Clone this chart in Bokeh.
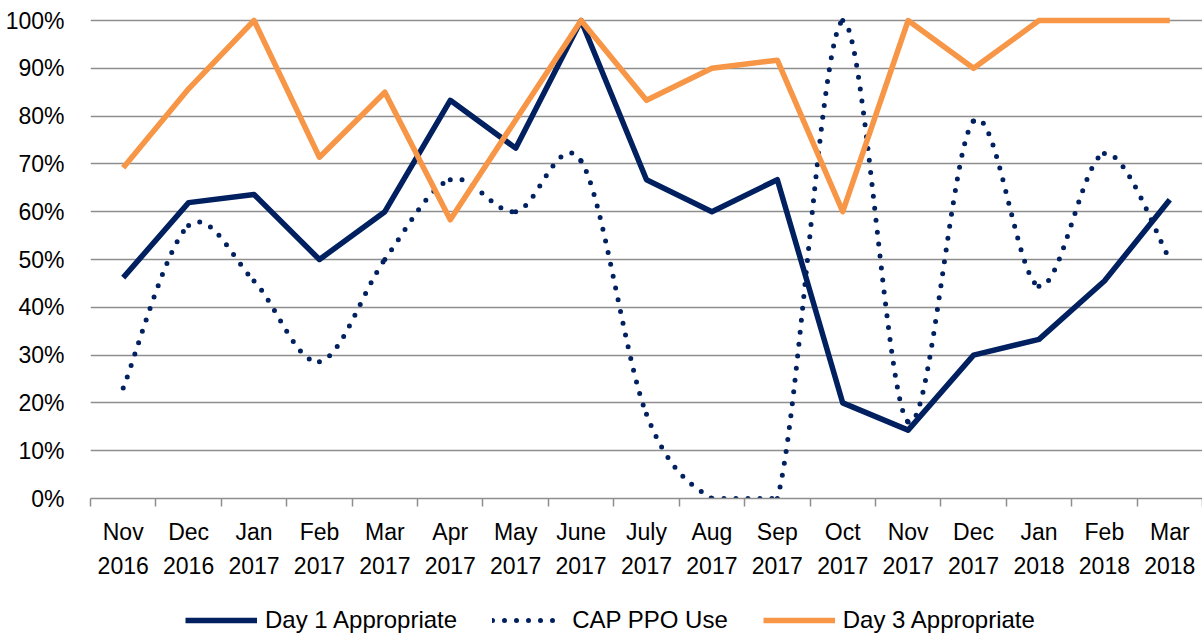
from bokeh.plotting import figure
from bokeh.layouts import column
from bokeh.models import Range1d, FixedTicker, PrintfTickFormatter, Legend, LegendItem, ColumnDataSource
from bokeh.embed import file_html
from bokeh.resources import INLINE

# ---- data ----
labels = ["Nov\n2016", "Dec\n2016", "Jan\n2017", "Feb\n2017", "Mar\n2017", "Apr\n2017",
          "May\n2017", "June\n2017", "July\n2017", "Aug\n2017", "Sep\n2017", "Oct\n2017",
          "Nov\n2017", "Dec\n2017", "Jan\n2018", "Feb\n2018", "Mar\n2018"]
day1_appropriate = [46.2, 61.9, 63.6, 50.0, 60.0, 83.3, 73.3, 100.0, 66.7, 60.0, 66.7,
                    20.0, 14.3, 30.0, 33.3, 45.5, 62.5]
cap_ppo_use = [23.1, 57.1, 45.5, 28.6, 50.0, 66.7, 60.0, 70.6, 17.6, 0.0, 0.0,
               100.0, 16.0, 79.0, 44.4, 72.2, 50.0]
day3_appropriate = [69.2, 85.7, 100.0, 71.4, 85.0, 58.3, 79.2, 100.0, 83.3, 90.0, 91.7,
                    60.0, 100.0, 90.0, 100.0, 100.0, 100.0]
series_names = ["Day 1 Appropriate", "CAP PPO Use", "Day 3 Appropriate"]
y_ticks = [0, 10, 20, 30, 40, 50, 60, 70, 80, 90, 100]

NAVY = "#002060"
ORANGE = "#F79646"
GRID = "#8E8E8E"
FONT = "Liberation Sans"

n = len(labels)
xs = list(range(n))

p = figure(frame_width=1112, frame_height=482, output_backend="svg", toolbar_location=None,
           x_range=Range1d(-0.5, n - 0.5), y_range=Range1d(0, 100.84),
           min_border_left=90, min_border_right=0, min_border_top=16, min_border_bottom=104)
p.outline_line_color = None
p.background_fill_color = "white"
p.border_fill_color = "white"

# y axis
p.yaxis.ticker = FixedTicker(ticks=y_ticks)
p.yaxis.formatter = PrintfTickFormatter(format="%d%%")
p.yaxis.axis_line_color = None
p.yaxis.major_tick_line_color = None
p.yaxis.minor_tick_line_color = None
p.yaxis.major_tick_in = 0
p.yaxis.major_tick_out = 0
p.yaxis.major_label_standoff = 26
p.yaxis.major_label_text_font = FONT
p.yaxis.major_label_text_font_size = "23px"
p.yaxis.major_label_text_color = "#000000"

p.ygrid.ticker = FixedTicker(ticks=y_ticks)
p.ygrid.grid_line_color = GRID
p.ygrid.grid_line_width = 1.5
p.xgrid.grid_line_color = None

# x axis: labels at category centres, tick marks at category boundaries
p.xaxis.ticker = FixedTicker(ticks=xs, minor_ticks=[i - 0.5 for i in range(n + 1)])
p.xaxis.major_label_overrides = {i: lab for i, lab in enumerate(labels)}
p.xaxis.axis_line_color = GRID
p.xaxis.axis_line_width = 1.5
p.xaxis.major_tick_in = 0
p.xaxis.major_tick_out = 8
p.xaxis.major_tick_line_color = None
p.xaxis.minor_tick_in = 0
p.xaxis.minor_tick_out = 8
p.xaxis.minor_tick_line_color = GRID
p.xaxis.minor_tick_line_width = 1.5
p.xaxis.major_label_standoff = 12
p.xaxis.major_label_text_font = FONT
p.xaxis.major_label_text_font_size = "23px"
p.xaxis.major_label_text_color = "#000000"
p.xaxis.major_label_text_line_height = 1.32

# smoothed (Excel-like) curve for CAP PPO Use: bezier control points from the data
def clamp(v):
    return max(0.0, min(100.0, v))

seg = dict(x0=[], y0=[], x1=[], y1=[], cx0=[], cy0=[], cx1=[], cy1=[])
for i in range(n - 1):
    xm, ym = xs[max(i - 1, 0)], cap_ppo_use[max(i - 1, 0)]
    xa, ya = xs[i], cap_ppo_use[i]
    xb, yb = xs[i + 1], cap_ppo_use[i + 1]
    xp, yp = xs[min(i + 2, n - 1)], cap_ppo_use[min(i + 2, n - 1)]
    seg["x0"].append(xa); seg["y0"].append(ya)
    seg["x1"].append(xb); seg["y1"].append(yb)
    seg["cx0"].append(xa + (xb - xm) / 6.0); seg["cy0"].append(clamp(ya + (yb - ym) / 6.0))
    seg["cx1"].append(xb - (xp - xa) / 6.0); seg["cy1"].append(clamp(yb - (yp - ya) / 6.0))

line_styles = [dict(line_color=NAVY, line_width=5.5, line_join="round"),
               dict(line_color=NAVY, line_width=5, line_dash="0 12", line_cap="round"),
               dict(line_color=ORANGE, line_width=5.5, line_join="round")]

p.bezier(x0="x0", y0="y0", x1="x1", y1="y1", cx0="cx0", cy0="cy0", cx1="cx1", cy1="cy1",
         source=ColumnDataSource(seg), **line_styles[1])
p.line(xs, day1_appropriate, **line_styles[0])
p.line(xs, day3_appropriate, **line_styles[2])

# legend strip as a separate small figure under the chart (no axes, no data drawn)
lg = figure(width=1202, height=32, output_backend="svg", toolbar_location=None,
            x_range=Range1d(0, 1), y_range=Range1d(0, 1),
            x_axis_location=None, y_axis_location=None,
            min_border_left=0, min_border_right=0, min_border_top=0, min_border_bottom=0)
lg.grid.visible = False
lg.outline_line_color = None
lg.background_fill_color = "white"
lg.border_fill_color = "white"
nan = float("nan")
legend_renderers = [lg.line(x=[nan, nan], y=[nan, nan], **style) for style in line_styles]

legend = Legend(items=[LegendItem(label=name, renderers=[r])
                       for name, r in zip(series_names, legend_renderers)],
                orientation="horizontal", location=(95, 0))
legend.label_text_font = FONT
legend.label_text_font_size = "24px"
legend.label_text_color = "#000000"
legend.glyph_width = 72
legend.glyph_height = 20
legend.label_standoff = 8
legend.spacing = 35
legend.padding = 2
legend.margin = 0
legend.border_line_color = None
legend.background_fill_alpha = 0
lg.add_layout(legend, "center")

layout = column(p, lg, spacing=0)
open("out.html", "w").write(file_html(layout, INLINE))
